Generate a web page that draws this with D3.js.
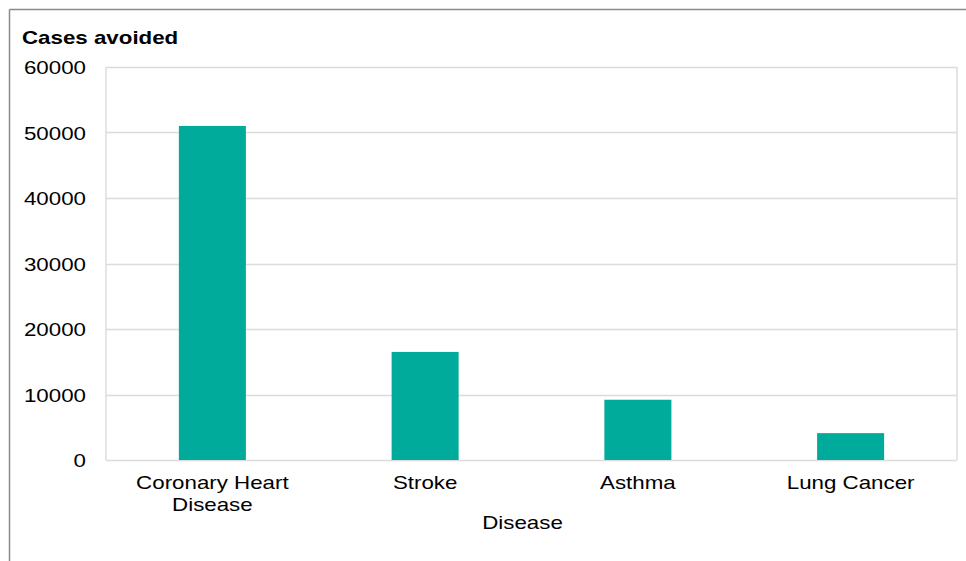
<!DOCTYPE html>
<html>
<head>
<meta charset="utf-8">
<script src="https://cdn.jsdelivr.net/npm/d3@7"></script>
<style>
  html, body { margin: 0; padding: 0; background: #fff; }
  svg { display: block; }
  text { font-family: "Liberation Sans", Arial, sans-serif; fill: #000; }
</style>
</head>
<body>
<svg id="chart" width="966" height="561"></svg>
<script>
const categories = [["Coronary Heart", "Disease"], ["Stroke"], ["Asthma"], ["Lung Cancer"]];
const values = [51000, 16500, 9200, 4100];
const yTicks = [0, 10000, 20000, 30000, 40000, 50000, 60000];
const yTitle = "Cases avoided";
const xTitle = "Disease";

const W = 966, H = 561;
const m = { left: 106, top: 67, right: 957, bottom: 460 };
const SX = 1.24; // horizontal stretch of text in the reference
const FS = 18;

const svg = d3.select("#chart");

// outer frame (top and left edges visible)
svg.append("line").attr("x1", 9.5).attr("x2", W).attr("y1", 9.5).attr("y2", 9.5)
  .attr("stroke", "#8a8a8a").attr("stroke-width", 1.5);
svg.append("line").attr("x1", 9.5).attr("x2", 9.5).attr("y1", 9.5).attr("y2", H)
  .attr("stroke", "#8a8a8a").attr("stroke-width", 1.5);

const keys = categories.map((c, i) => i);
const x = d3.scaleBand().domain(keys).range([m.left, m.right])
  .paddingInner(0.685).paddingOuter(0.3425);
const y = d3.scaleLinear().domain([0, 60000]).range([m.bottom, m.top]);

function stretchedText(sel, tx, ty, anchor) {
  return sel.attr("x", 0).attr("y", 0)
    .attr("text-anchor", anchor)
    .attr("transform", `translate(${tx},${ty}) scale(${SX},1)`);
}

// gridlines
svg.append("g").selectAll("line").data(yTicks).join("line")
  .attr("x1", m.left).attr("x2", m.right)
  .attr("y1", d => Math.round(y(d)) + 0.5).attr("y2", d => Math.round(y(d)) + 0.5)
  .attr("stroke", "#dcdcdc").attr("stroke-width", 1.5);
// plot frame sides
[m.left, m.right].forEach(xx => {
  svg.append("line").attr("x1", xx).attr("x2", xx).attr("y1", m.top).attr("y2", m.bottom)
    .attr("stroke", "#dcdcdc").attr("stroke-width", 1.5);
});

// bars
svg.append("g").selectAll("rect").data(values).join("rect")
  .attr("x", (d, i) => x(i))
  .attr("width", x.bandwidth())
  .attr("y", d => y(d))
  .attr("height", d => y(0) - y(d))
  .attr("fill", "#00ab9b");

// y tick labels
svg.append("g").selectAll("text").data(yTicks).join("text")
  .each(function(d) { stretchedText(d3.select(this), 86, y(d) + 7, "end"); })
  .style("font-size", FS + "px")
  .text(d => d);

// x labels
const xl = svg.append("g").selectAll("g").data(categories).join("g");
xl.each(function(lines, i) {
  const g = d3.select(this);
  lines.forEach((t, j) => {
    g.append("text")
      .call(s => stretchedText(s, x(i) + x.bandwidth() / 2, 489 + j * 22, "middle"))
      .style("font-size", FS + "px")
      .text(t);
  });
});

// axis titles
svg.append("text").call(s => stretchedText(s, 22, 44, "start"))
  .style("font-size", FS + "px").style("font-weight", "bold").text(yTitle);
svg.append("text").call(s => stretchedText(s, (m.left + m.right) / 2 - 9, 529, "middle"))
  .style("font-size", FS + "px").text(xTitle);
</script>
</body>
</html>
